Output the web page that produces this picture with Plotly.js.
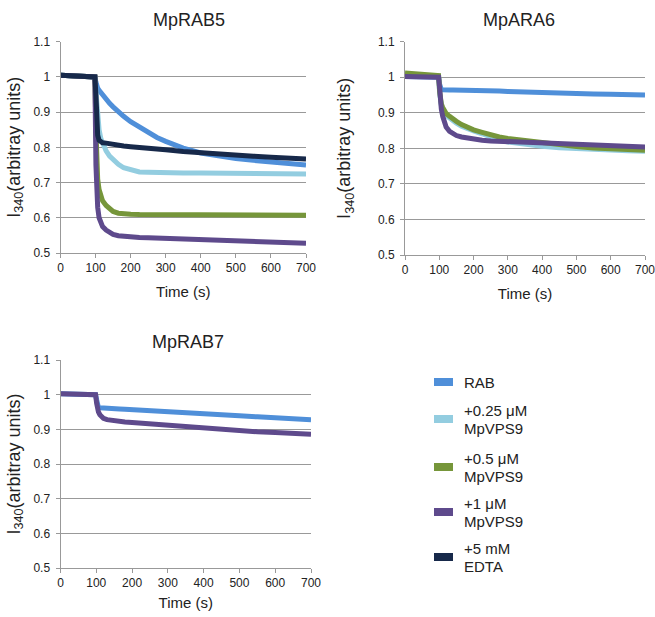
<!DOCTYPE html>
<html>
<head>
<meta charset="utf-8">
<script src="https://cdn.plot.ly/plotly-3.0.1.min.js"></script>
<style>html,body{margin:0;padding:0;background:#fff;}#chart{width:655px;height:617px;}</style>
</head>
<body>
<div id="chart"></div>
<script>
// ---------- data ----------
const timeS = [0, 25, 50, 75, 98, 101, 103, 106, 110, 115, 120, 130, 140, 150, 165, 180, 200, 225, 250, 275, 300, 350, 400, 450, 500, 550, 600, 650, 700];

// MpRAB5 panel
const rab5_RAB   = [1.005,1.004,1.003,1.002,1.000,0.985,0.975,0.968,0.962,0.955,0.948,0.937,0.925,0.915,0.900,0.888,0.873,0.857,0.842,0.828,0.817,0.798,0.784,0.775,0.768,0.763,0.758,0.754,0.750];
const rab5_025   = [1.005,1.004,1.003,1.002,1.000,0.960,0.920,0.880,0.850,0.825,0.810,0.790,0.775,0.765,0.752,0.742,0.735,0.730,0.729,0.728,0.728,0.727,0.727,0.726,0.726,0.725,0.725,0.724,0.724];
const rab5_05    = [1.005,1.004,1.003,1.002,1.000,0.850,0.760,0.710,0.680,0.660,0.648,0.635,0.625,0.618,0.613,0.611,0.610,0.609,0.609,0.609,0.609,0.609,0.608,0.608,0.608,0.608,0.607,0.607,0.607];
const rab5_1     = [1.005,1.004,1.003,1.002,1.000,0.750,0.680,0.630,0.600,0.585,0.575,0.565,0.558,0.553,0.549,0.547,0.545,0.544,0.543,0.542,0.541,0.539,0.538,0.536,0.535,0.534,0.532,0.530,0.528];
const rab5_EDTA  = [1.005,1.004,1.003,1.002,1.000,0.950,0.880,0.835,0.820,0.815,0.813,0.812,0.810,0.808,0.806,0.804,0.802,0.799,0.797,0.795,0.793,0.788,0.784,0.781,0.778,0.775,0.772,0.770,0.767];

// MpARA6 panel
const ara6_RAB   = [1.002,1.001,1.001,1.000,1.000,0.980,0.967,0.965,0.965,0.964,0.964,0.964,0.964,0.964,0.963,0.963,0.963,0.962,0.961,0.961,0.960,0.958,0.957,0.956,0.954,0.953,0.952,0.951,0.950];
const ara6_025   = [1.008,1.007,1.006,1.005,1.003,0.955,0.935,0.920,0.910,0.900,0.893,0.885,0.877,0.871,0.862,0.855,0.849,0.841,0.831,0.823,0.818,0.811,0.806,0.802,0.799,0.796,0.794,0.793,0.792];
const ara6_05    = [1.012,1.010,1.008,1.007,1.005,0.960,0.940,0.925,0.915,0.905,0.898,0.890,0.882,0.876,0.867,0.860,0.852,0.845,0.838,0.832,0.828,0.822,0.815,0.810,0.805,0.801,0.798,0.796,0.795];
const ara6_1     = [1.002,1.001,1.001,1.000,1.000,0.970,0.940,0.910,0.890,0.870,0.860,0.848,0.840,0.836,0.832,0.829,0.826,0.823,0.821,0.820,0.818,0.815,0.813,0.811,0.809,0.808,0.806,0.805,0.804];

// MpRAB7 panel
const rab7_RAB   = [1.003,1.003,1.002,1.002,1.000,0.985,0.965,0.963,0.962,0.962,0.961,0.961,0.961,0.961,0.959,0.958,0.957,0.955,0.954,0.952,0.951,0.948,0.945,0.942,0.939,0.936,0.933,0.930,0.928];
const rab7_1     = [1.003,1.003,1.002,1.002,1.000,0.975,0.960,0.950,0.942,0.936,0.932,0.928,0.926,0.924,0.922,0.921,0.920,0.918,0.915,0.912,0.910,0.908,0.905,0.900,0.896,0.893,0.891,0.889,0.886];

const panelTitles = ['MpRAB5', 'MpARA6', 'MpRAB7'];
const seriesNames = ['RAB', '+0.25 μM<br>MpVPS9', '+0.5 μM<br>MpVPS9', '+1 μM<br>MpVPS9', '+5 mM<br>EDTA'];
const xTickVals = [0, 100, 200, 300, 400, 500, 600, 700];
const yTickVals = [0.5, 0.6, 0.7, 0.8, 0.9, 1.0, 1.1];
const yTickText = ['0.5', '0.6', '0.7', '0.8', '0.9', '1', '1.1'];

// ---------- styling ----------
const W = 655, H = 617;
const colors = ['#4f8fd9', '#93cde0', '#76963a', '#5e4a8c', '#17294a'];
const px = p => p / W;
const py = p => 1 - p / H;
const FONT = 'Liberation Sans, Arial, Helvetica, sans-serif';

function tr(y, ci, xa, ya) {
  return {
    x: timeS, y: y, type: 'scatter', mode: 'lines',
    line: {color: colors[ci], width: 5},
    xaxis: xa, yaxis: ya, showlegend: false, hoverinfo: 'skip'
  };
}

const data = [
  tr(rab5_RAB, 0, 'x', 'y'),
  tr(rab5_025, 1, 'x', 'y'),
  tr(rab5_05, 2, 'x', 'y'),
  tr(rab5_1, 3, 'x', 'y'),
  tr(rab5_EDTA, 4, 'x', 'y'),
  tr(ara6_RAB, 0, 'x2', 'y2'),
  tr(ara6_025, 1, 'x2', 'y2'),
  tr(ara6_05, 2, 'x2', 'y2'),
  tr(ara6_1, 3, 'x2', 'y2'),
  tr(rab7_RAB, 0, 'x3', 'y3'),
  tr(rab7_1, 3, 'x3', 'y3')
];

function xax(domain, anchor, standoff) {
  return {
    domain: domain, anchor: anchor, range: [0, 700], tickvals: xTickVals,
    ticks: 'outside', ticklen: 4, tickcolor: '#999', showline: true, linecolor: '#999', linewidth: 1,
    showgrid: false, zeroline: false, tickfont: {size: 12, color: '#222'}, ticklabeloverflow: 'allow',
    title: {text: 'Time (s)', font: {size: 15, color: '#222'}, standoff: standoff},
    fixedrange: true
  };
}
function yax(domain, anchor, standoff) {
  return {
    domain: domain, anchor: anchor, range: [0.5, 1.1], tickvals: yTickVals, ticktext: yTickText,
    ticks: 'outside', ticklen: 4, tickcolor: '#999', showline: true, linecolor: '#999', linewidth: 1,
    showgrid: true, gridcolor: '#999', gridwidth: 1, zeroline: false, tickfont: {size: 12, color: '#222'},
    ticklabeloverflow: 'allow', ticklabelstandoff: 3,
    title: {text: 'I<sub>340</sub>(arbitray units)', font: {size: 18, color: '#222'}, standoff: standoff},
    fixedrange: true
  };
}

const annotations = [
  {text: panelTitles[0], x: px(189), y: py(20), xref: 'paper', yref: 'paper', showarrow: false, font: {size: 18, color: '#222'}, xanchor: 'center', yanchor: 'middle'},
  {text: panelTitles[1], x: px(519), y: py(20), xref: 'paper', yref: 'paper', showarrow: false, font: {size: 18, color: '#222'}, xanchor: 'center', yanchor: 'middle'},
  {text: panelTitles[2], x: px(188), y: py(342), xref: 'paper', yref: 'paper', showarrow: false, font: {size: 18, color: '#222'}, xanchor: 'center', yanchor: 'middle'}
];
const shapes = [];
const legendY = [382, 419, 467, 512, 557];
seriesNames.forEach((name, i) => {
  const lines = name.split('<br>');
  lines.forEach((ln, j) => {
    const yy = legendY[i] + (j - (lines.length - 1) / 2) * 18;
    annotations.push({text: ln, x: px(462), y: py(yy), xref: 'paper', yref: 'paper', showarrow: false,
      font: {size: 15, color: '#222'}, xanchor: 'left', yanchor: 'middle', align: 'left'});
  });
  shapes.push({type: 'rect', xref: 'paper', yref: 'paper', x0: px(434), x1: px(453), y0: py(legendY[i] - 4), y1: py(legendY[i] + 4),
    fillcolor: colors[i], line: {width: 0}});
});

const layout = {
  width: W, height: H, margin: {l: 0, r: 0, t: 0, b: 0},
  paper_bgcolor: '#fff', plot_bgcolor: '#fff',
  font: {family: FONT, color: '#222'},
  showlegend: false,
  xaxis: xax([px(60.5), px(306)], 'y', 12),
  yaxis: yax([py(253), py(41.7)], 'x', 8),
  xaxis2: xax([px(405), px(645)], 'y2', 12),
  yaxis2: yax([py(255), py(41.7)], 'x2', 22),
  xaxis3: xax([px(60.5), px(311)], 'y3', 8),
  yaxis3: yax([py(568), py(360)], 'x3', 8),
  annotations: annotations,
  shapes: shapes
};

Plotly.newPlot('chart', data, layout, {displayModeBar: false, staticPlot: true});
</script>
</body>
</html>
